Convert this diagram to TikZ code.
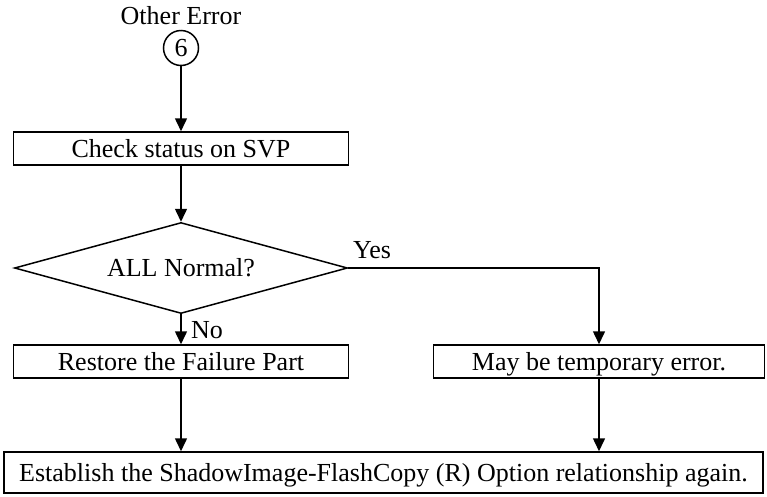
\documentclass[tikz,border=0pt]{standalone}
\usepackage{fontspec}
\setmainfont{Liberation Serif}
\usetikzlibrary{arrows.meta,shapes.geometric}
\begin{document}
\begin{tikzpicture}[x=1pt,y=-1pt,
  every node/.style={font=\fontsize{26}{30}\selectfont},
  procbox/.style={draw,line width=1.5pt,rectangle,inner sep=0pt,minimum height=33pt,text height=21pt,text depth=4pt},
  conn/.style={line width=1.5pt,-{Triangle[length=13pt,width=12pt]}},
  lbl/.style={inner sep=0pt}]
\useasboundingbox (0,0) rectangle (767,496);
\node[lbl] (title) at (181,16) {Other Error};
\node[draw,circle,line width=1.5pt,minimum size=35pt,inner sep=0pt] (circ) at (181,48) {6};
\node[procbox,minimum width=335pt] (check) at (181,148.5) {Check status on SVP};
\node[draw,diamond,line width=1.5pt,minimum width=333pt,minimum height=91pt,aspect=3.66,inner sep=0pt] (dia) at (181,268) {ALL Normal?};
\node[procbox,minimum width=335pt] (restore) at (181,361.5) {Restore the Failure Part};
\node[procbox,minimum width=331pt] (may) at (599,361.5) {May be temporary error.};
\node[procbox,minimum width=759pt,minimum height=41pt] (est) at (383.5,472.5) {Establish the ShadowImage-FlashCopy (R) Option relationship again.};
\node[lbl] (yes) at (372,250) {Yes};
\node[lbl] (no) at (207,330) {No};
\draw[conn] (circ) -- (check);
\draw[conn] (check) -- (dia);
\draw[conn] (dia.south) -- (restore);
\draw[conn] (dia.east) -| (may.north);
\draw[conn] (restore.south) -- (restore.south |- est.north);
\draw[conn] (may.south) -- (may.south |- est.north);
\end{tikzpicture}
\end{document}
